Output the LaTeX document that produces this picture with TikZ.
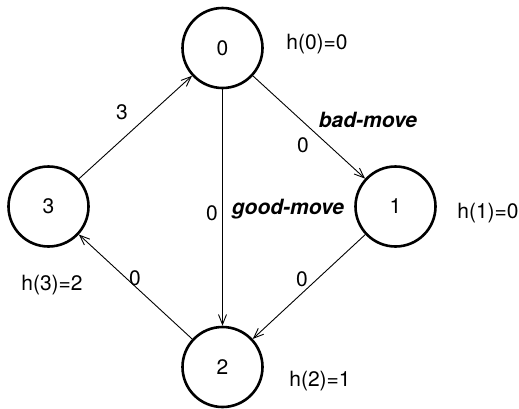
\documentclass[tikz,border=0pt]{standalone}
\usepackage{fontspec}
\setmainfont{TeX Gyre Heros}
\usetikzlibrary{arrows.meta}
\begin{document}
\begin{tikzpicture}[x=0.5pt,y=-0.5pt,
  font=\fontsize{10.5}{12}\selectfont,
  state/.style={draw,circle,line width=1.3pt,minimum size=40pt,inner sep=0pt},
  edge/.style={line width=0.45pt,-{Straight Barb[length=5pt,width=4pt]}},
  lab/.style={inner sep=1pt},
  mv/.style={inner sep=1pt,font=\fontsize{10.5}{12}\selectfont\bfseries\itshape}]
\useasboundingbox (0,0) rectangle (519,408);
\node[state] (n0) at (222.5,48) {0};
\node[state] (n1) at (395.5,206.5) {1};
\node[state] (n2) at (222.5,367) {2};
\node[state] (n3) at (48.5,206.5) {3};
\node[lab] (h0) at (317,44) {h(0)=0};
\node[lab] (h1) at (488,213) {h(1)=0};
\node[lab] (h2) at (320,381) {h(2)=1};
\node[lab] (h3) at (52,285) {h(3)=2};
\draw[edge] (n3) -- (n0);
\draw[edge] (n0) -- (n1);
\draw[edge] (n0) -- (n2);
\draw[edge] (n1) -- (n2);
\draw[edge] (n2) -- (n3);
\node[lab] (l30) at (122,112) {3};
\node[lab] (l01) at (303,145) {0};
\node[lab] (l02) at (212,213) {0};
\node[lab] (l12) at (302,279) {0};
\node[lab] (l23) at (135,278) {0};
\node[mv] (bad) at (368,120) {bad-move};
\node[mv] (good) at (288,209) {good-move};
\end{tikzpicture}
\end{document}
